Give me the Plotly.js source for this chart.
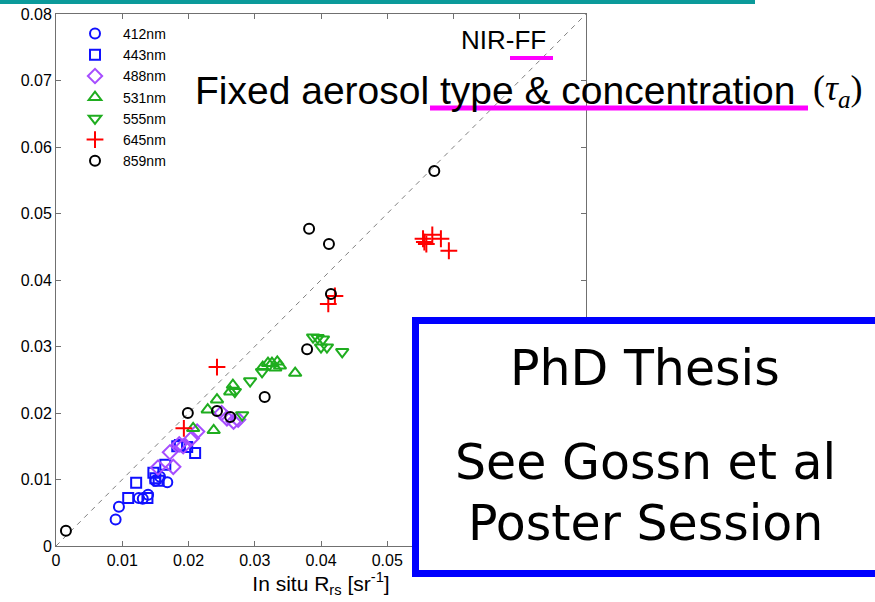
<!DOCTYPE html>
<html>
<head>
<meta charset="utf-8">
<script src="https://cdn.plot.ly/plotly-3.0.1.min.js"></script>
<style>html,body{margin:0;padding:0;background:#fff;}#chart{width:875px;height:602px;}</style>
</head>
<body>
<div id="chart"></div>
<script>
// Wavelength bands
const bands = ["412nm", "443nm", "488nm", "531nm", "555nm", "645nm", "859nm"];
// In situ Rrs (x) and retrieved Rrs (y) per band
const x412 = [0.0090, 0.0095, 0.0125, 0.0131, 0.0139, 0.0150, 0.0157, 0.0168];
const y412 = [0.0040, 0.0059, 0.0072, 0.0071, 0.0077, 0.0098, 0.0104, 0.0096];
const x443 = [0.0109, 0.0121, 0.0138, 0.0147, 0.0150, 0.0155, 0.0165, 0.0183, 0.0187, 0.0198, 0.0210];
const y443 = [0.0072, 0.0095, 0.0072, 0.0110, 0.0102, 0.0098, 0.0122, 0.0150, 0.0152, 0.0149, 0.0140];
const x488 = [0.0154, 0.0172, 0.0177, 0.0186, 0.0192, 0.0205, 0.0213, 0.0250, 0.0258, 0.0268, 0.0275];
const y488 = [0.0118, 0.0141, 0.0119, 0.0153, 0.0150, 0.0162, 0.0172, 0.0200, 0.0192, 0.0187, 0.0190];
const x531 = [0.0207, 0.0229, 0.0238, 0.0243, 0.0263, 0.0267, 0.0312, 0.0320, 0.0326, 0.0334, 0.0338, 0.0331, 0.0361];
const y531 = [0.0177, 0.0205, 0.0174, 0.0220, 0.0232, 0.0242, 0.0269, 0.0275, 0.0275, 0.0277, 0.0271, 0.0268, 0.0260];
const x555 = [0.0281, 0.0270, 0.0293, 0.0311, 0.0388, 0.0395, 0.0403, 0.0400, 0.0409, 0.0432];
const y555 = [0.0197, 0.0232, 0.0248, 0.0262, 0.0314, 0.0313, 0.0311, 0.0299, 0.0299, 0.0292];
const x645 = [0.0193, 0.0243, 0.0411, 0.0421, 0.0554, 0.0556, 0.0559, 0.0568, 0.0581, 0.0593];
const y645 = [0.0177, 0.0269, 0.0364, 0.0376, 0.0462, 0.0457, 0.0454, 0.0468, 0.0462, 0.0444];
const x859 = [0.0015, 0.0199, 0.0243, 0.0263, 0.0315, 0.0379, 0.0382, 0.0412, 0.0415, 0.0571];
const y859 = [0.0023, 0.0200, 0.0203, 0.0194, 0.0224, 0.0296, 0.0477, 0.0454, 0.0379, 0.0564];
// 1:1 line
const oneToOne = [0, 0.08];
// Tick labels
const tickVals = [0, 0.01, 0.02, 0.03, 0.04, 0.05, 0.06, 0.07, 0.08];
const tickText = ["0", "0.01", "0.02", "0.03", "0.04", "0.05", "0.06", "0.07", "0.08"];

const xs = [x412, x443, x488, x531, x555, x645, x859];
const ys = [y412, y443, y488, y531, y555, y645, y859];
const symbols = ["circle-open", "square-open", "diamond-open", "triangle-up-open", "triangle-down-open", "cross-thin-open", "circle-open"];
const colors = ["#1010ff", "#1010ff", "#a64dff", "#1fad1f", "#1fad1f", "#ff0000", "#000000"];
const sizes = [10, 10, 11, 11, 11, 12, 10];

const traces = [{
  x: oneToOne, y: oneToOne, mode: "lines", showlegend: false, hoverinfo: "skip",
  line: {color: "#808080", width: 1, dash: "5px,5px"}
}];
bands.forEach((b, i) => {
  traces.push({
    x: xs[i], y: ys[i], name: b, type: "scatter", mode: "markers",
    marker: {symbol: symbols[i], size: sizes[i], color: colors[i], line: {color: colors[i], width: 2}}
  });
});

const W = 875, H = 602, L = 56, R = 289, T = 14, B = 56;
const pw = W - L - R, ph = H - T - B;
const px = v => (v - L) / pw;
const py = v => (H - B - v) / ph;

const layout = {
  width: W, height: H,
  margin: {l: L, r: R, t: T, b: B, autoexpand: false},
  paper_bgcolor: "#ffffff", plot_bgcolor: "#ffffff",
  font: {family: "Liberation Sans, Arial, sans-serif", color: "#000", size: 15},
  showlegend: true,
  legend: {x: px(67), y: py(18), xanchor: "left", yanchor: "top", bgcolor: "rgba(0,0,0,0)",
           font: {size: 14}, itemwidth: 46, tracegroupgap: 0},
  xaxis: {range: [0, 0.08], tickvals: tickVals, ticktext: tickText, ticks: "inside", ticklen: 5,
          showline: true, mirror: "ticks", linecolor: "#707070", tickcolor: "#707070", linewidth: 1,
          showgrid: false, zeroline: false, tickfont: {size: 16},
          title: {text: "In situ R<sub>rs</sub> [sr<sup>-1</sup>]", font: {size: 21}, standoff: 6}},
  yaxis: {range: [0, 0.08], tickvals: tickVals, ticktext: tickText, ticks: "inside", ticklen: 5,
          showline: true, mirror: "ticks", linecolor: "#707070", tickcolor: "#707070", linewidth: 1,
          showgrid: false, zeroline: false, tickfont: {size: 16}},
  shapes: [
    {type: "line", xref: "paper", yref: "paper", x0: px(0), x1: px(755), y0: py(2), y1: py(2),
     line: {color: "#0b9a9a", width: 4}, layer: "above"},
    {type: "line", xref: "paper", yref: "paper", x0: px(510), x1: px(553), y0: py(58), y1: py(58),
     line: {color: "#ff00ff", width: 4}, layer: "above"},
    {type: "line", xref: "paper", yref: "paper", x0: px(430), x1: px(808), y0: py(108), y1: py(108),
     line: {color: "#ff00ff", width: 5}, layer: "above"},
    {type: "rect", xref: "paper", yref: "paper", x0: px(415.5), x1: px(885), y0: py(573.5), y1: py(320.5),
     line: {color: "#0000ff", width: 7}, fillcolor: "#ffffff", layer: "above"}
  ],
  annotations: [
    {xref: "paper", yref: "paper", x: px(503.5), y: py(40), xanchor: "center", yanchor: "middle",
     text: "NIR-FF", showarrow: false, font: {size: 26, family: "Liberation Sans, Arial, sans-serif"}},
    {xref: "paper", yref: "paper", x: px(193), y: py(90), xanchor: "left", yanchor: "middle",
     text: "Fixed aerosol type &amp; concentration", showarrow: false,
     font: {size: 39, family: "Liberation Sans, Arial, sans-serif"}},
    {xref: "paper", yref: "paper", x: px(811), y: py(90), xanchor: "left", yanchor: "middle",
     text: "(<i>τ</i><sub><i>a</i></sub>)", showarrow: false,
     font: {size: 36, family: "Liberation Serif, Times New Roman, serif"}},
    {xref: "paper", yref: "paper", x: px(645), y: py(368), xanchor: "center", yanchor: "middle",
     text: "PhD Thesis", showarrow: false, font: {size: 49, family: "DejaVu Sans, sans-serif"}},
    {xref: "paper", yref: "paper", x: px(645), y: py(462), xanchor: "center", yanchor: "middle",
     text: "See Gossn et al", showarrow: false, font: {size: 49, family: "DejaVu Sans, sans-serif"}},
    {xref: "paper", yref: "paper", x: px(645), y: py(523), xanchor: "center", yanchor: "middle",
     text: "Poster Session", showarrow: false, font: {size: 49, family: "DejaVu Sans, sans-serif"}}
  ]
};

Plotly.newPlot("chart", traces, layout, {displayModeBar: false, staticPlot: true});
</script>
</body>
</html>
